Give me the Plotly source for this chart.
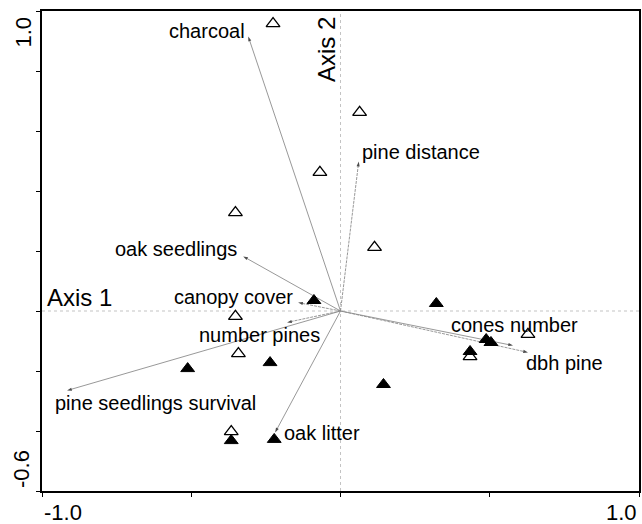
import plotly.graph_objects as go

# ---- data ----
open_x = [-0.226, 0.064, 0.114, -0.069, -0.352, -0.352, -0.342, -0.366, 0.434, 0.628]
open_y = [0.958, 0.662, 0.212, 0.462, 0.328, -0.018, -0.142, -0.402, -0.152, -0.078]

filled_x = [-0.089, -0.512, -0.236, -0.366, -0.222, 0.321, 0.488, 0.504, 0.434, 0.144]
filled_y = [0.035, -0.192, -0.172, -0.432, -0.428, 0.025, -0.095, -0.105, -0.135, -0.245]

vec_names = ["charcoal", "pine distance", "oak seedlings", "canopy cover", "number pines",
             "pine seedlings survival", "oak litter", "cones number", "dbh pine"]
vec_x = [-0.309, 0.061, -0.326, -0.142, -0.179, -0.916, -0.219, 0.578, 0.628]
vec_y = [0.915, 0.498, 0.182, 0.028, -0.038, -0.265, -0.405, -0.115, -0.138]

x_range = [-1.0, 1.0]
y_range = [-0.6, 1.0]
x_tickvals = [-1.0, -0.5, 0.0, 0.5, 1.0]
y_tickvals = [-0.6, -0.4, -0.2, 0.0, 0.2, 0.4, 0.6, 0.8, 1.0]
x_ticklabels = ["-1.0", "1.0"]
y_ticklabels = ["-0.6", "1.0"]
axis_titles = ["Axis 1", "Axis 2"]

# ---- styles ----
FONT = "Liberation Sans, Arial, sans-serif"
LBL = 20
label_style = {
    "charcoal": dict(xanchor="right", yanchor="middle", xshift=-1, yshift=6),
    "pine distance": dict(xanchor="left", yanchor="middle", xshift=1, yshift=10),
    "oak seedlings": dict(xanchor="right", yanchor="middle", xshift=-4, yshift=7),
    "canopy cover": dict(xanchor="right", yanchor="middle", xshift=-3, yshift=6),
    "number pines": dict(xanchor="center", yanchor="middle", xshift=-28, yshift=-13),
    "pine seedlings survival": dict(xanchor="left", yanchor="middle", xshift=-14, yshift=-12),
    "oak litter": dict(xanchor="left", yanchor="middle", xshift=7, yshift=0),
    "cones number": dict(xanchor="center", yanchor="middle", xshift=1, yshift=21),
    "dbh pine": dict(xanchor="left", yanchor="middle", xshift=-4, yshift=-11),
}
dashed = {"pine distance", "canopy cover", "number pines", "dbh pine"}

fig = go.Figure()

# vectors
for name, vx, vy in zip(vec_names, vec_x, vec_y):
    fig.add_trace(go.Scatter(
        x=[0, vx], y=[0, vy], mode="lines+markers",
        line=dict(color="#8c8c8c", width=0.9, dash="3px,1px" if name in dashed else "solid"),
        marker=dict(symbol=["circle", "arrow"], size=[0, 5], color="black",
                    angleref="previous", line=dict(width=0)),
        hoverinfo="skip", showlegend=False, cliponaxis=False,
    ))

# open triangles
fig.add_trace(go.Scatter(
    x=open_x, y=open_y, mode="markers",
    marker=dict(symbol="triangle-up", size=12, color="white",
                line=dict(color="black", width=1.3)),
    showlegend=False,
))
# filled triangles
fig.add_trace(go.Scatter(
    x=filled_x, y=filled_y, mode="markers",
    marker=dict(symbol="triangle-up", size=12, color="black",
                line=dict(color="black", width=1)),
    showlegend=False,
))

annotations = []
for name, vx, vy in zip(vec_names, vec_x, vec_y):
    annotations.append(dict(x=vx, y=vy, xref="x", yref="y", text=name, showarrow=False,
                            font=dict(family=FONT, size=LBL, color="black"), **label_style[name]))

# axis titles
annotations.append(dict(x=x_range[0], y=0, xref="x", yref="y", text=axis_titles[0],
                        showarrow=False, xanchor="left", yanchor="bottom", xshift=3, yshift=-2,
                        font=dict(family=FONT, size=24, color="black")))
annotations.append(dict(x=0, y=y_range[1], xref="x", yref="y", text=axis_titles[1],
                        showarrow=False, textangle=-90, xanchor="center", yanchor="top",
                        xshift=-14, yshift=-4,
                        font=dict(family=FONT, size=24, color="black")))

# tick labels (only the end values)
annotations.append(dict(x=x_range[0], y=y_range[0], xref="x", yref="y", text=x_ticklabels[0],
                        showarrow=False, xanchor="left", yanchor="top", yshift=-7,
                        font=dict(family=FONT, size=22, color="black")))
annotations.append(dict(x=x_range[1], y=y_range[0], xref="x", yref="y", text=x_ticklabels[1],
                        showarrow=False, xanchor="right", yanchor="top", yshift=-7,
                        font=dict(family=FONT, size=22, color="black")))
annotations.append(dict(x=x_range[0], y=y_range[1], xref="x", yref="y", text=y_ticklabels[1],
                        showarrow=False, textangle=-90, xanchor="center", yanchor="top",
                        xshift=-19, yshift=-4,
                        font=dict(family=FONT, size=22, color="black")))
annotations.append(dict(x=x_range[0], y=y_range[0], xref="x", yref="y", text=y_ticklabels[0],
                        showarrow=False, textangle=-90, xanchor="center", yanchor="bottom",
                        xshift=-21, yshift=1,
                        font=dict(family=FONT, size=22, color="black")))

shapes = [
    dict(type="line", xref="x", yref="y", x0=0, x1=0, y0=y_range[0], y1=y_range[1],
         line=dict(color="#b4b4b4", width=0.8, dash="dot"), layer="below"),
    dict(type="line", xref="x", yref="y", x0=x_range[0], x1=x_range[1], y0=0, y1=0,
         line=dict(color="#b4b4b4", width=0.8, dash="dot"), layer="below"),
]

axis_common = dict(showgrid=False, zeroline=False, showline=True, linecolor="black",
                   linewidth=1.5, mirror=True, ticks="outside", ticklen=4, tickwidth=1.3,
                   tickcolor="black", showticklabels=False)

fig.update_layout(
    width=642, height=524,
    margin=dict(l=42, r=1, t=11, b=33),
    paper_bgcolor="white", plot_bgcolor="white",
    xaxis=dict(range=x_range, tickvals=x_tickvals, **axis_common),
    yaxis=dict(range=y_range, tickvals=y_tickvals, **axis_common),
    annotations=annotations,
    shapes=shapes,
    font=dict(family=FONT),
)

fig.write_html("out.html", config={"displayModeBar": False},
               post_script="document.body.style.margin='0';document.body.style.overflow='hidden';")
